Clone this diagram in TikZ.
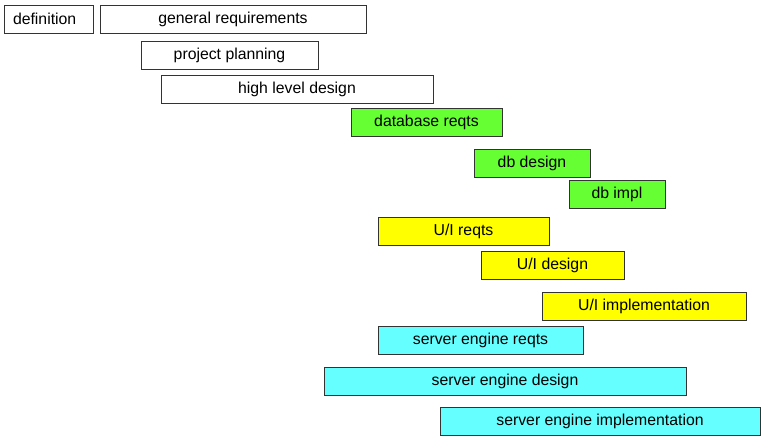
\documentclass[tikz,border=0pt]{standalone}
\usepackage{fontspec}
\setmainfont{Liberation Sans}
\definecolor{dbgreen}{HTML}{66FF33}
\definecolor{uiyellow}{HTML}{FFFF00}
\definecolor{srvcyan}{HTML}{66FFFF}
\begin{document}
\begin{tikzpicture}[x=1pt,y=-1pt,
   task/.style={draw=black!80, line width=1pt, fill=white, anchor=north west,
      inner sep=0pt, outer sep=0pt, minimum height=28pt,
      font=\fontsize{15.8}{18}\selectfont},
   dbtask/.style={task, fill=dbgreen},
   uitask/.style={task, fill=uiyellow},
   srvtask/.style={task, fill=srvcyan}]
   \useasboundingbox (0,0) rectangle (761,437);
   \node[task, minimum width=89pt, text width=71pt] (def) at (4,5) {definition};
   \node[task, minimum width=266pt] (genreq) at (100,5) {general requirements};
   \node[task, minimum width=177pt] (plan) at (141,41) {project planning};
   \node[task, minimum width=272pt] (hld) at (161,75) {high level design};
   \node[dbtask, minimum width=151pt] (dbreq) at (351,108) {database reqts};
   \node[dbtask, minimum width=116pt] (dbdes) at (474,149) {db design};
   \node[dbtask, minimum width=96pt] (dbimpl) at (569,180) {db impl};
   \node[uitask, minimum width=171pt] (uireq) at (378,217) {U/I reqts};
   \node[uitask, minimum width=143pt] (uides) at (481,251) {U/I design};
   \node[uitask, minimum width=204pt] (uiimpl) at (542,292) {U/I implementation};
   \node[srvtask, minimum width=205pt] (srvreq) at (378,326) {server engine reqts};
   \node[srvtask, minimum width=362pt] (srvdes) at (324,367) {server engine design};
   \node[srvtask, minimum width=320pt] (srvimpl) at (440,407) {server engine implementation};
\end{tikzpicture}
\end{document}
